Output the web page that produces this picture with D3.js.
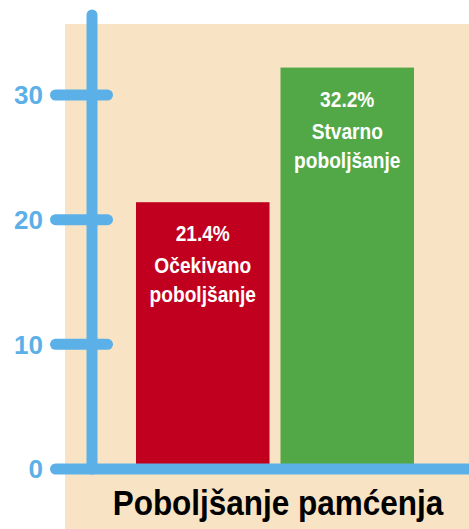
<!DOCTYPE html>
<html>
<head>
<meta charset="utf-8">
<script src="https://cdn.jsdelivr.net/npm/d3@7.9.0/dist/d3.min.js"></script>
<style>
  body { margin: 0; background: #fff; }
  svg { display: block; }
  text { font-family: "Liberation Sans", Arial, sans-serif; font-weight: bold; }
</style>
</head>
<body>
<svg id="chart" width="469" height="529"></svg>
<script>
const categories = ["Očekivano", "Stvarno"];
const values = [21.4, 32.2];
const barLabels = [["Očekivano", "poboljšanje"], ["Stvarno", "poboljšanje"]];
const barColors = ["#c1001f", "#52a846"];
const tickValues = [0, 10, 20, 30];
const axisTitle = "Poboljšanje pamćenja";

const W = 469, H = 529;
const blue = "#5cb0e8";
const axisX = 92;

const svg = d3.select("#chart");

const y = d3.scaleLinear().domain([0, 30]).range([469, 95]);
const x = d3.scaleBand().domain(categories).range([136, 414]).paddingInner(0.076);

// beige panel
svg.append("rect")
  .attr("x", 65).attr("y", 24)
  .attr("width", W - 65).attr("height", H - 24)
  .attr("fill", "#f8e4c4");

// bars
const bars = svg.selectAll("g.bar")
  .data(categories.map((c, i) => ({ cat: c, value: values[i], lines: barLabels[i], color: barColors[i] })))
  .enter()
  .append("g")
  .attr("class", "bar");

bars.append("rect")
  .attr("x", d => x(d.cat))
  .attr("y", d => y(d.value))
  .attr("width", x.bandwidth())
  .attr("height", d => y(0) - y(d.value))
  .attr("fill", d => d.color);

// condensed look: scale text horizontally
const fmt = d3.format(".1f");
bars.append("text")
  .attr("transform", d => `translate(${x(d.cat) + x.bandwidth() / 2},${y(d.value) + 39}) scale(0.87,1)`)
  .attr("text-anchor", "middle")
  .attr("fill", "#fff")
  .attr("font-size", 22)
  .text(d => fmt(d.value) + "%");

bars.each(function (d) {
  d3.select(this).selectAll("text.lbl")
    .data(d.lines)
    .enter()
    .append("text")
    .attr("class", "lbl")
    .attr("transform", (t, j) => `translate(${x(d.cat) + x.bandwidth() / 2},${y(d.value) + 71 + j * 29}) scale(0.87,1)`)
    .attr("text-anchor", "middle")
    .attr("fill", "#fff")
    .attr("font-size", 22)
    .text(t => t);
});

// vertical axis line
svg.append("line")
  .attr("x1", axisX).attr("x2", axisX)
  .attr("y1", 15).attr("y2", y(0))
  .attr("stroke", blue)
  .attr("stroke-width", 11)
  .attr("stroke-linecap", "round");

// baseline
svg.append("line")
  .attr("x1", 55.5).attr("x2", W + 10)
  .attr("y1", y(0)).attr("y2", y(0))
  .attr("stroke", blue)
  .attr("stroke-width", 11)
  .attr("stroke-linecap", "round");

// ticks
svg.selectAll("line.tick")
  .data(tickValues.filter(v => v > 0))
  .enter()
  .append("line")
  .attr("class", "tick")
  .attr("x1", 55.5).attr("x2", 107.5)
  .attr("y1", d => y(d)).attr("y2", d => y(d))
  .attr("stroke", blue)
  .attr("stroke-width", 11)
  .attr("stroke-linecap", "round");

svg.selectAll("text.tlabel")
  .data(tickValues)
  .enter()
  .append("text")
  .attr("class", "tlabel")
  .attr("x", 43)
  .attr("y", d => y(d))
  .attr("dy", "0.36em")
  .attr("text-anchor", "end")
  .attr("fill", blue)
  .attr("font-size", 26)
  .text(d => d);

// axis title
svg.append("text")
  .attr("transform", "translate(278,515) scale(0.9,1)")
  .attr("text-anchor", "middle")
  .attr("fill", "#000")
  .attr("font-size", 35)
  .text(axisTitle);
</script>
</body>
</html>
